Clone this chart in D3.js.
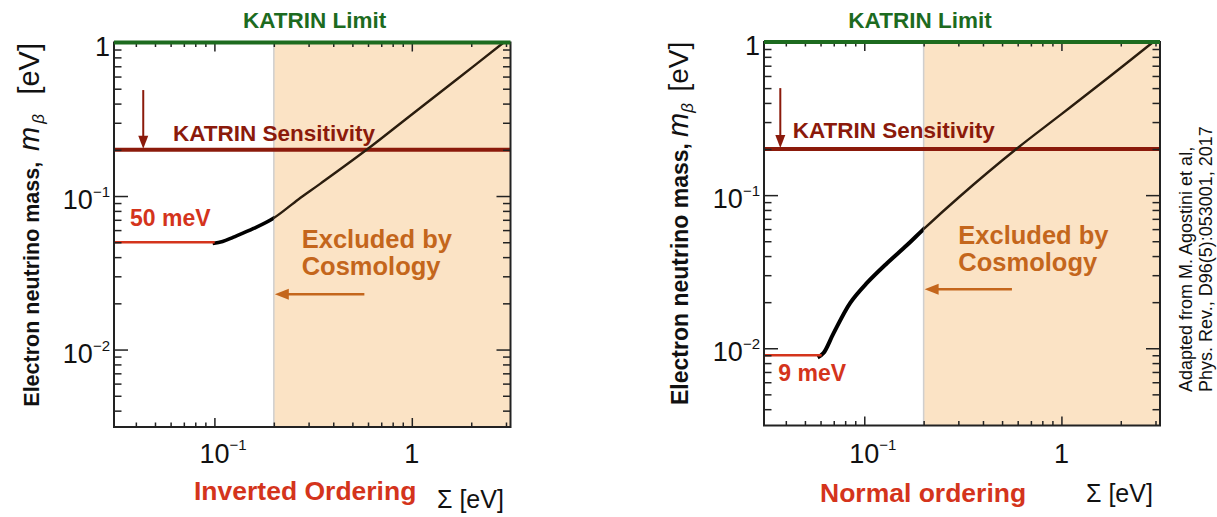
<!DOCTYPE html>
<html><head><meta charset="utf-8">
<script src="https://cdn.jsdelivr.net/npm/d3@7"></script>
<style>body{margin:0;background:#fff}svg{display:block}text{font-family:"Liberation Sans",Arial,Helvetica,sans-serif}</style>
</head><body><svg id="c" width="1217" height="517"></svg>
<script>
// ---------------- data ----------------
const sigmaDomain = [0.0310, 3.162];
const mbetaDomain = [0.00313, 1];
const xTickValues = [0.1, 1];
const xTickBase = ["10", "1"];
const xTickExp = ["\u22121", ""];
const yTickValues = [1, 0.1, 0.01];
const yTickBase = ["1", "10", "10"];
const yTickExp = ["", "\u22121", "\u22122"];

const invSigma = [0.098, 0.11, 0.125, 0.158, 0.2, 0.266, 0.343, 0.59, 1.0, 1.7, 2.92];
const invMbeta = [0.049, 0.0505, 0.054, 0.0615, 0.072, 0.095, 0.12, 0.2, 0.34, 0.578, 1.0];

const normSigma = [0.058, 0.0621, 0.0698, 0.0849, 0.1032, 0.1304, 0.1648, 0.2, 0.305, 0.59, 1.0, 1.7, 2.92];
const normMbeta = [0.0087, 0.0093, 0.0125, 0.0198, 0.0267, 0.0359, 0.0472, 0.060, 0.098, 0.2, 0.338, 0.575, 1.0];

const katrinLimit = 1.0;
const katrinSensitivity = 0.2;
const cosmologyLimit = 0.2;
const floorValues = [0.05, 0.009];
const floorLabels = ["50 meV", "9 meV"];
const orderingLabels = ["Inverted Ordering", "Normal ordering"];
const sensArrowSigma = [0.0436, 0.0375];
const sensArrowTop = [0.49, 0.50];
const cosmoArrowFrom = [0.575, 0.561];
const cosmoArrowM = [0.0229, 0.0243];

// ---------------- layout ----------------
const C = {
  green: "#1d6b1f", darkred: "#8b1a0b", red: "#d4341c", orange: "#c4661c",
  shade: "#fbe3c5", axis: "#222"
};
const panels = [
  { x0: 114, x1: 510.5, y0: 42.5, y1: 427, sigma: invSigma, mbeta: invMbeta,
    title: [314.7, 28], sens: [173, 141], floorL: [130, 226], excl: [301.7, 248, 275],
    xtitle: [194, 500], sig: [437, 508], ylabX: 39, ylabA: 406.7, ylabB: 151, ylabC: 43,
    ylabSize: 21.5, betaDx: 3, evSize: 29 },
  { x0: 764, x1: 1160, y0: 42, y1: 425.5, sigma: normSigma, mbeta: normMbeta,
    title: [920, 28], sens: [792.7, 137.5], floorL: [778.3, 380.7], excl: [958.3, 244, 271],
    xtitle: [820, 502], sig: [1086, 502], ylabX: 688, ylabA: 405, ylabB: 137, ylabC: 41.7,
    ylabSize: 23, betaDx: 0, evSize: 28 }
];

const svg = d3.select("#c");
const defs = svg.append("defs");

function arrowHead(g, x, y, dir, color, w, l) {
  let pts;
  if (dir === "down") pts = [[x - w / 2, y - l], [x + w / 2, y - l], [x, y]];
  else pts = [[x + l, y - w / 2], [x + l, y + w / 2], [x, y]];
  g.append("path").attr("d", d3.line()(pts) + "Z").attr("fill", color);
}

panels.forEach((p, i) => {
  const x = d3.scaleLog().domain(sigmaDomain).range([p.x0, p.x1]);
  const y = d3.scaleLog().domain(mbetaDomain).range([p.y1, p.y0]);
  const g = svg.append("g");

  const xc = x(cosmologyLimit);
  defs.append("clipPath").attr("id", "lo" + i).append("rect")
    .attr("x", p.x0).attr("y", p.y0 - 5).attr("width", xc - p.x0).attr("height", p.y1 - p.y0 + 10);
  defs.append("clipPath").attr("id", "hi" + i).append("rect")
    .attr("x", xc).attr("y", p.y0 - 5).attr("width", p.x1 - xc).attr("height", p.y1 - p.y0 + 10);

  // excluded shading
  g.append("rect").attr("x", xc).attr("y", p.y0).attr("width", p.x1 - xc).attr("height", p.y1 - p.y0)
    .attr("fill", C.shade);
  g.append("line").attr("x1", xc).attr("x2", xc).attr("y1", p.y0).attr("y2", p.y1)
    .attr("stroke", "#cfcfcf").attr("stroke-width", 1.5);

  // sensitivity line
  g.append("line").attr("x1", p.x0).attr("x2", p.x1)
    .attr("y1", y(katrinSensitivity)).attr("y2", y(katrinSensitivity))
    .attr("stroke", C.darkred).attr("stroke-width", 4);

  // curve
  const pts = p.sigma.map((s, k) => [x(s), y(p.mbeta[k])]);
  const line = d3.line().curve(d3.curveCatmullRom.alpha(0.5));
  g.append("path").attr("d", line(pts)).attr("fill", "none").attr("stroke", "#000")
    .attr("stroke-width", i === 0 ? 3.6 : 4).attr("clip-path", `url(#lo${i})`);
  g.append("path").attr("d", line(pts)).attr("fill", "none").attr("stroke", "#2b1d0e")
    .attr("stroke-width", 2.4).attr("clip-path", `url(#hi${i})`);

  // floor line
  g.append("line").attr("x1", p.x0).attr("x2", x(p.sigma[0]) + (i === 0 ? 2 : 4))
    .attr("y1", y(floorValues[i])).attr("y2", y(floorValues[i]))
    .attr("stroke", C.red).attr("stroke-width", 2.4);

  // axes ticks (inward)
  const xMinor = x.ticks().filter(v => xTickValues.indexOf(v) < 0 && Math.abs(Math.log10(v) % 1) > 1e-6);
  const yMinor = y.ticks().filter(v => yTickValues.indexOf(v) < 0 && Math.abs(Math.log10(v) % 1) > 1e-6);
  const ax = [
    [d3.axisBottom(x).tickValues(xTickValues).tickSize(-9), `translate(0,${p.y1})`],
    [d3.axisBottom(x).tickValues(xMinor).tickSize(-4.5), `translate(0,${p.y1})`],
    [d3.axisTop(x).tickValues(xTickValues).tickSize(-9), `translate(0,${p.y0})`],
    [d3.axisTop(x).tickValues(xMinor).tickSize(-4.5), `translate(0,${p.y0})`],
    [d3.axisLeft(y).tickValues(yTickValues).tickSize(-14), `translate(${p.x0},0)`],
    [d3.axisLeft(y).tickValues(yMinor).tickSize(-7.5), `translate(${p.x0},0)`],
    [d3.axisRight(y).tickValues(yTickValues).tickSize(-14), `translate(${p.x1},0)`],
    [d3.axisRight(y).tickValues(yMinor).tickSize(-7.5), `translate(${p.x1},0)`]
  ];
  ax.forEach(([a, t]) => {
    const ag = g.append("g").attr("transform", t).call(a.tickFormat("").tickSizeOuter(0));
    ag.select(".domain").remove();
    ag.selectAll("line").attr("stroke", C.axis).attr("stroke-width", 1.5);
    ag.selectAll("text").remove();
  });

  // frame
  g.append("rect").attr("x", p.x0).attr("y", p.y0).attr("width", p.x1 - p.x0).attr("height", p.y1 - p.y0)
    .attr("fill", "none").attr("stroke", C.axis).attr("stroke-width", 2);

  // KATRIN limit line
  g.append("line").attr("x1", p.x0).attr("x2", p.x1).attr("y1", y(katrinLimit)).attr("y2", y(katrinLimit))
    .attr("stroke", C.green).attr("stroke-width", 4);

  // tick labels
  yTickValues.forEach((v, k) => {
    const t = g.append("text").attr("x", p.x0 - 4).attr("y", y(v) + 13)
      .attr("text-anchor", "end").attr("font-size", 27).attr("fill", "#111");
    t.append("tspan").text(yTickBase[k]);
    if (yTickExp[k]) t.append("tspan").attr("font-size", 15).attr("dy", -12).text(yTickExp[k]);
  });
  xTickValues.forEach((v, k) => {
    g.append("text").attr("x", x(v)).attr("y", 463).attr("text-anchor", "middle")
      .attr("font-size", 27).attr("fill", "#111").text(xTickBase[k]);
    if (xTickExp[k]) g.append("text").attr("x", x(v) + 15).attr("y", 450).attr("font-size", 15)
      .attr("fill", "#111").text(xTickExp[k]);
  });

  // titles & annotations
  g.append("text").attr("x", p.title[0]).attr("y", p.title[1]).attr("text-anchor", "middle")
    .attr("font-size", 22.5).attr("font-weight", "bold").attr("fill", C.green).text("KATRIN Limit");
  g.append("text").attr("x", p.sens[0]).attr("y", p.sens[1]).attr("font-size", 22.5)
    .attr("font-weight", "bold").attr("fill", C.darkred).text("KATRIN Sensitivity");
  const sx = x(sensArrowSigma[i]);
  g.append("line").attr("x1", sx).attr("x2", sx).attr("y1", y(sensArrowTop[i])).attr("y2", y(katrinSensitivity) - 10)
    .attr("stroke", C.darkred).attr("stroke-width", 2);
  arrowHead(g, sx, y(katrinSensitivity) - 1, "down", C.darkred, 10, 13);

  g.append("text").attr("x", p.floorL[0]).attr("y", p.floorL[1]).attr("font-size", 23)
    .attr("font-weight", "bold").attr("fill", C.red).text(floorLabels[i]);

  g.append("text").attr("x", p.excl[0]).attr("y", p.excl[1]).attr("font-size", 25.5)
    .attr("font-weight", "bold").attr("fill", C.orange).text("Excluded by");
  g.append("text").attr("x", p.excl[0]).attr("y", p.excl[2]).attr("font-size", 25.5)
    .attr("font-weight", "bold").attr("fill", C.orange).text("Cosmology");
  const cy = y(cosmoArrowM[i]);
  g.append("line").attr("x1", x(cosmoArrowFrom[i])).attr("x2", xc + 10).attr("y1", cy).attr("y2", cy)
    .attr("stroke", C.orange).attr("stroke-width", 2.5);
  arrowHead(g, xc + 1, cy, "left", C.orange, 11, 14);

  // axis titles
  g.append("text").attr("x", p.xtitle[0]).attr("y", p.xtitle[1]).attr("font-size", 26.5)
    .attr("font-weight", "bold").attr("fill", C.red).text(orderingLabels[i]);
  g.append("text").attr("x", p.sig[0]).attr("y", p.sig[1]).attr("font-size", 25)
    .attr("fill", "#111").text("\u03A3 [eV]");

  // y axis title (rotated)
  g.append("text").attr("transform", `translate(${p.ylabX},${p.ylabA}) rotate(-90)`)
    .attr("font-size", p.ylabSize).attr("font-weight", "bold").attr("fill", "#111")
    .text("Electron neutrino mass,");
  const mb = g.append("text").attr("transform", `translate(${p.ylabX},${p.ylabB}) rotate(-90)`)
    .attr("fill", "#111");
  mb.append("tspan").attr("font-size", 29).attr("font-style", "italic").text("m");
  mb.append("tspan").attr("font-size", 17).attr("font-style", "italic").attr("dx", p.betaDx).attr("dy", 5).text("\u03B2");
  g.append("text").attr("transform", `translate(${p.ylabX},${p.ylabC}) rotate(-90)`)
    .attr("text-anchor", "end").attr("font-size", p.evSize).attr("fill", "#111").text("[eV]");
});

// credit
const cr = svg.append("text").attr("transform", "translate(1192,392) rotate(-90)").attr("font-size", 18).attr("fill", "#111");
cr.append("tspan").attr("x", 0).attr("y", 0).text("Adapted from M. Agostini et al,");
cr.append("tspan").attr("x", 0).attr("y", 20).text("Phys. Rev., D96(5):053001, 2017");
</script></body></html>
